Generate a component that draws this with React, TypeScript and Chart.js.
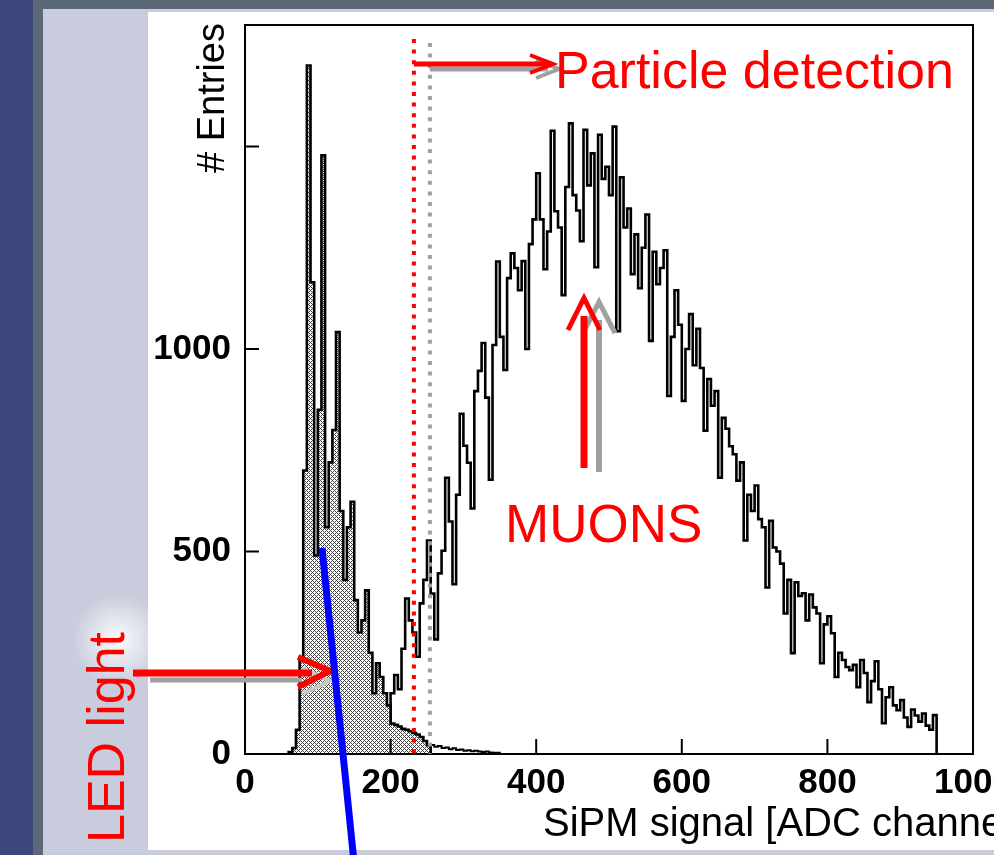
import React, { useEffect, useRef } from 'react';
import { Chart, registerables } from 'chart.js';

Chart.register(...registerables);

// ---------------- data ----------------
const BIN_WIDTH = 5;

// LED light spectrum (hatched), bins of 5 ADC starting at 60
const ledStart = 60;
const ledCounts = [
  5, 15, 60, 230, 700, 1700, 1165, 490, 850, 1478,
  560, 720, 800, 1042, 600, 430, 560, 623, 380, 300,
  330, 404, 250, 150, 224, 190, 150, 120, 75, 72,
  68, 62, 60, 56, 52, 48, 42, 32, 22,
];

// small unfilled LED tail above the threshold
const ledTailStart = 255;
const ledTailCounts = [22, 18, 20, 15, 16, 12, 14, 10, 11, 8, 9, 7, 8, 6, 5, 6, 4, 3, 3];

// muon spectrum (line), bins of 5 ADC starting at 200
const muonStart = 200;
const muonCounts = [
  150, 195, 160, 260, 384, 330, 300, 240, 372, 430,
  527, 396, 283, 446, 502, 682, 574, 419, 640, 840,
  761, 719, 606, 896, 946, 1015, 880, 677, 1010, 1216,
  1030, 948, 1175, 1236, 1200, 1145, 1217, 1000, 1259, 1320,
  1434, 1320, 1197, 1290, 1539, 1340, 1300, 1133, 1400, 1557,
  1380, 1342, 1266, 1541, 1404, 1483, 1202, 1529, 1420, 1450,
  1380, 1549, 1044, 1424, 1300, 1347, 1185, 1283, 1150, 1250,
  1332, 1020, 1240, 1160, 1200, 1244, 884, 1030, 1145, 1060,
  872, 1000, 1086, 960, 1050, 953, 798, 926, 860, 896,
  682, 830, 803, 760, 740, 675, 720, 527, 640, 600,
  663, 580, 560, 411, 576, 510, 500, 470, 347, 430,
  249, 424, 390, 397, 330, 394, 362, 347, 224, 320,
  340, 298, 190, 250, 232, 215, 207, 220, 165, 232,
  200, 128, 180, 229, 160, 76, 140, 165, 120, 108,
  133, 90, 67, 110, 95, 80, 100, 70, 60, 96,
];

const xTickValues = [0, 200, 400, 600, 800, 1000];
const xTickLabels = ['0', '200', '400', '600', '800', '1000'];
const yTickValues = [0, 500, 1000, 1500];
const yTickLabels = ['0', '500', '1000', ''];

const X_MIN = 0;
const X_MAX = 1000;
const Y_MAX = 1800;

const xTitle = 'SiPM signal [ADC channels]';
const yTitle = '# Entries';
const particleText = 'Particle detection';
const muonText = 'MUONS';
const ledText = 'LED light';

const redCut = 232;
const grayCut = 254;

// ---------------- helpers ----------------
const FONT = "'Liberation Sans', Arial, Helvetica, sans-serif";
const RED = '#ff0000';
const GRAY = '#a0a0a0';

function histPoints(start: number, counts: number[]) {
  const pts: { x: number; y: number }[] = [{ x: start, y: 0 }];
  counts.forEach((c, i) => pts.push({ x: start + i * BIN_WIDTH, y: c }));
  pts.push({ x: start + counts.length * BIN_WIDTH, y: 0 });
  return pts;
}

function makeHatch(): CanvasPattern | string {
  const c = document.createElement('canvas');
  c.width = 4;
  c.height = 4;
  const g = c.getContext('2d');
  if (!g) return '#999';
  g.fillStyle = '#ffffff';
  g.fillRect(0, 0, 4, 4);
  g.fillStyle = '#444444';
  for (let y = 0; y < 4; y++) {
    for (let x = 0; x < 4; x++) {
      if ((x + y) % 4 === 0 || (x - y + 4) % 4 === 0) g.fillRect(x, y, 1, 1);
    }
  }
  return g.createPattern(c, 'repeat') || '#999';
}

function poly(ctx: CanvasRenderingContext2D, pts: number[][], color: string, w: number) {
  ctx.beginPath();
  ctx.moveTo(pts[0][0], pts[0][1]);
  for (let i = 1; i < pts.length; i++) ctx.lineTo(pts[i][0], pts[i][1]);
  ctx.strokeStyle = color;
  ctx.lineWidth = w;
  ctx.lineCap = 'butt';
  ctx.lineJoin = 'miter';
  ctx.stroke();
}

const overlayPlugin = {
  id: 'overlay',
  beforeDraw(chart: any) {
    const ctx: CanvasRenderingContext2D = chart.ctx;
    ctx.save();
    const g = ctx.createRadialGradient(118, 640, 4, 118, 640, 46);
    g.addColorStop(0, 'rgba(255,255,255,0.85)');
    g.addColorStop(1, 'rgba(255,255,255,0)');
    ctx.fillStyle = g;
    ctx.fillRect(66, 590, 82, 100);
    ctx.restore();
  },
  afterDraw(chart: any) {
    const ctx: CanvasRenderingContext2D = chart.ctx;
    const xs = chart.scales.x;
    const ys = chart.scales.y;
    const a = chart.chartArea;
    ctx.save();

    // frame
    ctx.strokeStyle = '#000';
    ctx.lineWidth = 2;
    ctx.strokeRect(a.left, a.top, a.right - a.left, a.bottom - a.top);

    // inward tick marks
    ys.ticks.forEach((t: any) => {
      const py = ys.getPixelForValue(t.value);
      poly(ctx, [[a.left, py], [a.left + 14, py]], '#000', 2);
    });
    xs.ticks.forEach((t: any) => {
      const px = xs.getPixelForValue(t.value);
      poly(ctx, [[px, a.bottom], [px, a.bottom - 15]], '#000', 2);
    });

    // axis titles
    ctx.fillStyle = '#000';
    ctx.textBaseline = 'alphabetic';
    ctx.textAlign = 'left';
    ctx.font = `40px ${FONT}`;
    ctx.fillText(xTitle, 543, 836);
    ctx.font = `38px ${FONT}`;
    ctx.save();
    ctx.translate(224, 23);
    ctx.rotate(-Math.PI / 2);
    ctx.textAlign = 'right';
    ctx.fillText(yTitle, 0, 0);
    ctx.restore();

    // threshold dotted lines
    const rx = xs.getPixelForValue(redCut);
    const gx = xs.getPixelForValue(grayCut);
    ctx.setLineDash([4, 6.6]);
    poly(ctx, [[gx, 43], [gx, a.bottom]], GRAY, 4);
    poly(ctx, [[rx, 39], [rx, a.bottom]], RED, 4);
    ctx.setLineDash([]);

    // particle detection arrow
    poly(ctx, [[gx, 69], [548, 69]], GRAY, 5);
    poly(ctx, [[536, 60], [559, 69], [536, 78]], GRAY, 4);
    poly(ctx, [[rx, 64], [549, 64]], RED, 5);
    poly(ctx, [[530, 55], [553, 64], [530, 73]], RED, 4);

    // muon arrow
    poly(ctx, [[599, 472], [599, 320]], GRAY, 6);
    poly(ctx, [[583, 333], [599, 302], [615, 333]], GRAY, 5);
    poly(ctx, [[584, 468], [584, 316]], RED, 7);
    poly(ctx, [[568, 330], [584, 298], [600, 330]], RED, 5);

    // LED arrow
    poly(ctx, [[150, 680], [302, 680]], GRAY, 5);
    poly(ctx, [[302, 668], [330, 681], [302, 694]], '#c8c8c8', 4);
    poly(ctx, [[133, 673], [312, 673]], RED, 7);
    poly(ctx, [[298, 657], [330, 671], [298, 687]], RED, 6);

    // texts
    ctx.fillStyle = RED;
    ctx.font = `52px ${FONT}`;
    ctx.textAlign = 'left';
    ctx.textBaseline = 'alphabetic';
    ctx.fillText(particleText, 555, 88);
    ctx.font = `53px ${FONT}`;
    ctx.fillText(muonText, 505, 542);
    ctx.save();
    ctx.translate(124, 843);
    ctx.rotate(-Math.PI / 2);
    ctx.font = `52px ${FONT}`;
    ctx.fillText(ledText, 0, 0);
    ctx.restore();

    // blue line
    poly(ctx, [[322, 548], [354, 862]], '#0000ff', 7);

    ctx.restore();
  },
};

export default function App() {
  const ref = useRef<HTMLCanvasElement | null>(null);

  useEffect(() => {
    if (!ref.current) return;
    const hatch = makeHatch();
    const chart = new Chart(ref.current, {
      type: 'line',
      data: {
        datasets: [
          {
            label: 'LED',
            data: histPoints(ledStart, ledCounts),
            stepped: 'before',
            borderColor: '#000',
            borderWidth: 2.6,
            backgroundColor: hatch as any,
            fill: 'origin',
            pointRadius: 0,
          },
          {
            label: 'LED tail',
            data: histPoints(ledTailStart, ledTailCounts),
            stepped: 'before',
            borderColor: '#000',
            borderWidth: 2,
            fill: false,
            pointRadius: 0,
          },
          {
            label: 'Muons',
            data: histPoints(muonStart, muonCounts),
            stepped: 'before',
            borderColor: '#000',
            borderWidth: 2.6,
            fill: false,
            pointRadius: 0,
          },
        ],
      } as any,
      options: {
        responsive: false,
        animation: false,
        devicePixelRatio: 1,
        layout: { padding: { left: 145, right: 21, top: 25, bottom: 0 } },
        plugins: {
          legend: { display: false },
          tooltip: { enabled: false },
          title: { display: false },
        },
        elements: { line: { tension: 0, borderJoinStyle: 'miter' } },
        scales: {
          x: {
            type: 'linear',
            min: X_MIN,
            max: X_MAX,
            grid: { display: false, drawTicks: false },
            border: { display: false },
            afterBuildTicks: (s: any) => {
              s.ticks = xTickValues.map((v) => ({ value: v }));
            },
            ticks: {
              autoSkip: false,
              maxRotation: 0,
              minRotation: 0,
              padding: 8,
              color: '#000',
              font: { family: FONT, size: 35, weight: 'bold' },
              callback: (v: any) => {
                const i = xTickValues.indexOf(Number(v));
                return i >= 0 ? xTickLabels[i] : '';
              },
            },
            afterFit: (s: any) => {
              s.height = 101;
              s.paddingLeft = 0;
              s.paddingRight = 0;
            },
          },
          y: {
            type: 'linear',
            min: 0,
            max: Y_MAX,
            grid: { display: false, drawTicks: false },
            border: { display: false },
            afterBuildTicks: (s: any) => {
              s.ticks = yTickValues.map((v) => ({ value: v }));
            },
            ticks: {
              autoSkip: false,
              padding: 14,
              color: '#000',
              font: { family: FONT, size: 35, weight: 'bold' },
              callback: (v: any) => {
                const i = yTickValues.indexOf(Number(v));
                return i >= 0 ? yTickLabels[i] : '';
              },
            },
            afterFit: (s: any) => {
              s.width = 100;
              s.paddingTop = 0;
              s.paddingBottom = 0;
            },
          },
        },
      } as any,
      plugins: [overlayPlugin],
    });
    return () => chart.destroy();
  }, []);

  return (
    <div
      style={{
        position: 'fixed',
        left: 0,
        top: 0,
        width: 994,
        height: 855,
        overflow: 'hidden',
        background: '#3d477d',
      }}
    >
      <div style={{ position: 'absolute', left: 33, top: 0, width: 961, height: 855, background: '#5a6878' }} />
      <div style={{ position: 'absolute', left: 43, top: 9, width: 951, height: 846, background: '#c9ccdc' }} />
      <div style={{ position: 'absolute', left: 148, top: 12, width: 846, height: 838, background: '#ffffff' }} />
      <canvas
        ref={ref}
        width={994}
        height={855}
        style={{ position: 'absolute', left: 0, top: 0, width: 994, height: 855 }}
      />
    </div>
  );
}
